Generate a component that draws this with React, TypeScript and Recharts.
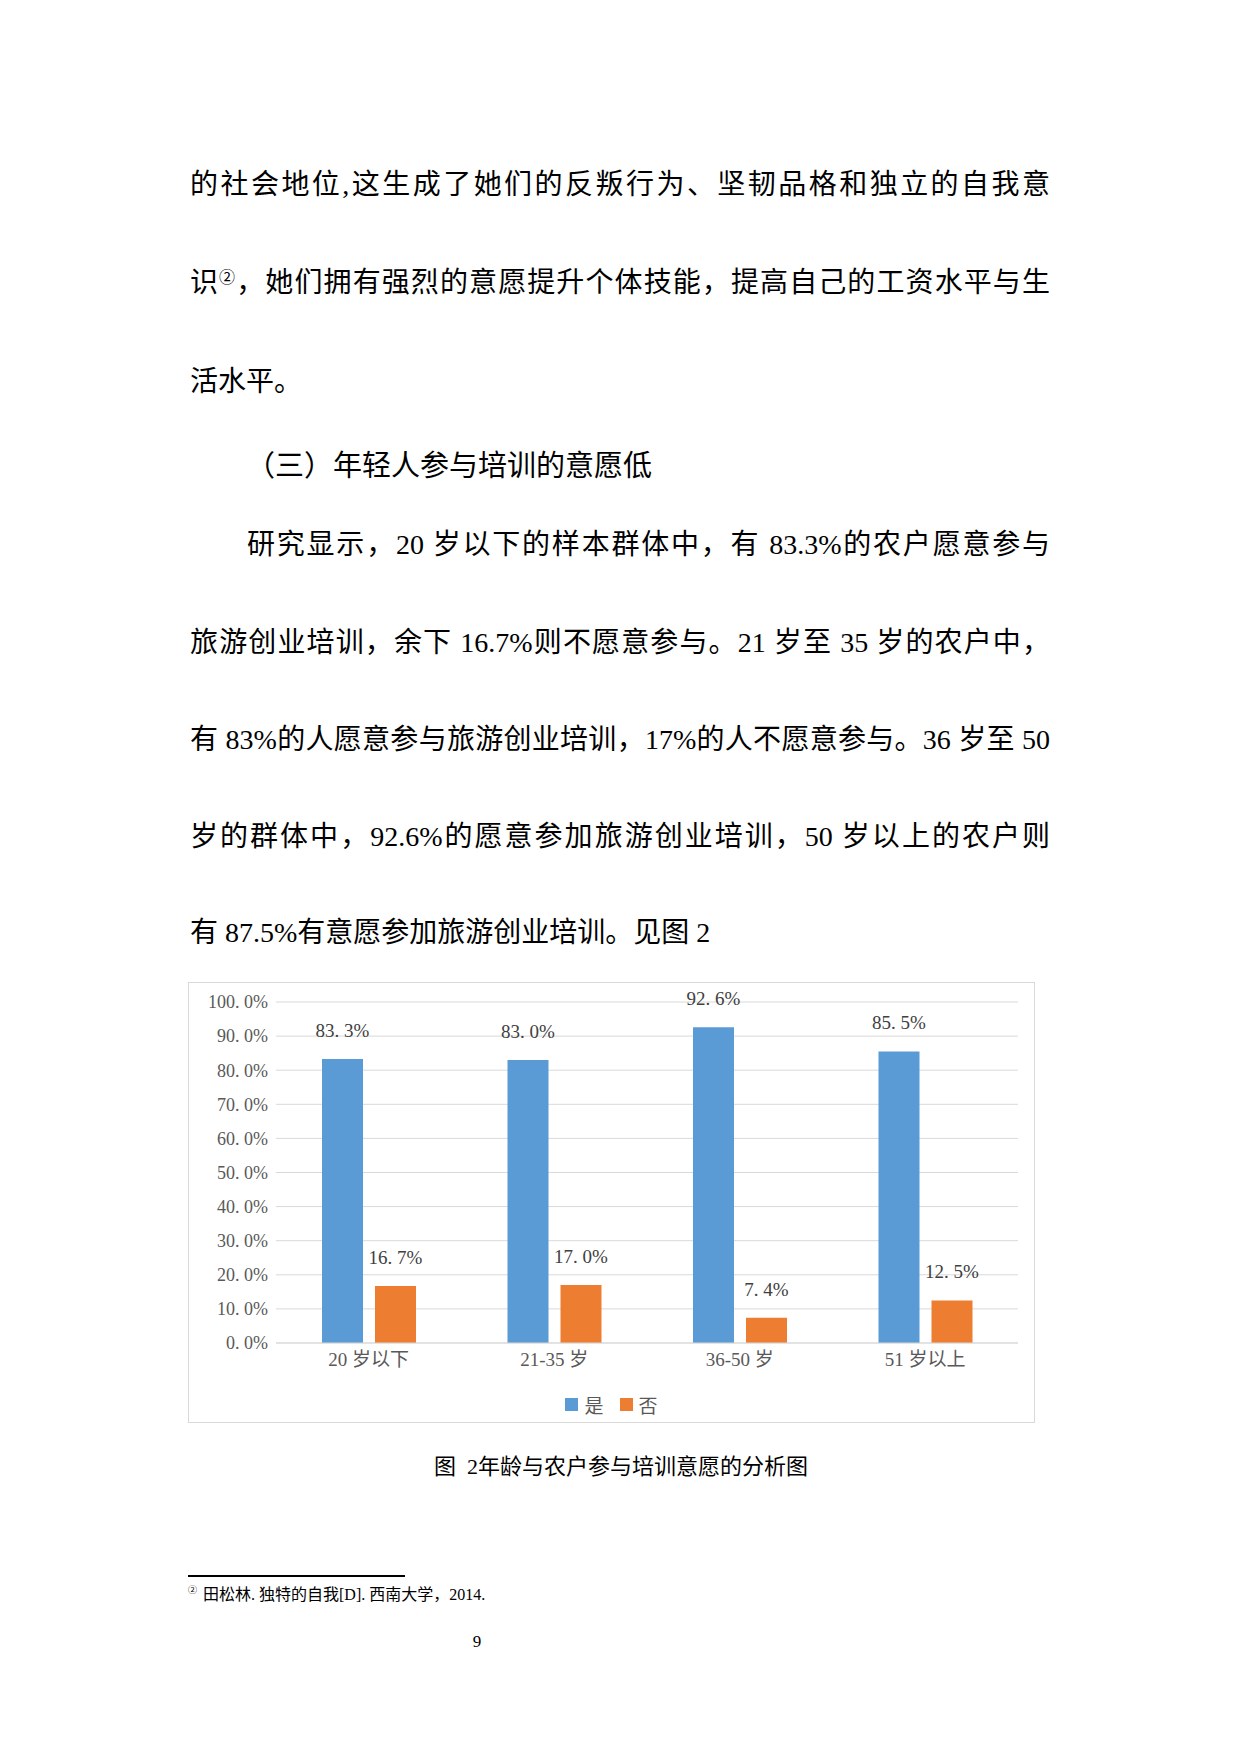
import React from "react";
import { BarChart, Bar, XAxis, YAxis, CartesianGrid, Legend, LabelList } from "recharts";

// chart data
const categories = ["20 岁以下", "21-35 岁", "36-50 岁", "51 岁以上"];
const seriesNames = ["是", "否"];
const yesValues = [83.3, 83.0, 92.6, 85.5];
const noValues = [16.7, 17.0, 7.4, 12.5];
const yTicks = [0, 10, 20, 30, 40, 50, 60, 70, 80, 90, 100];

// page text
const paraTop = [
  "的社会地位,这生成了她们的反叛行为、坚韧品格和独立的自我意",
  "识②，她们拥有强烈的意愿提升个体技能，提高自己的工资水平与生",
  "活水平。",
];
const heading = "（三）年轻人参与培训的意愿低";
const paraMain = [
  "研究显示，20 岁以下的样本群体中，有 83.3%的农户愿意参与",
  "旅游创业培训，余下 16.7%则不愿意参与。21 岁至 35 岁的农户中，",
  "有 83%的人愿意参与旅游创业培训，17%的人不愿意参与。36 岁至 50",
  "岁的群体中，92.6%的愿意参加旅游创业培训，50 岁以上的农户则",
  "有 87.5%有意愿参加旅游创业培训。见图 2",
];
const caption = "图  2年龄与农户参与培训意愿的分析图";
const footnote = "田松林. 独特的自我[D]. 西南大学，2014.";
const pageNumber = "9";

const data = categories.map((name, i) => ({
  name,
  yes: yesValues[i],
  no: noValues[i],
}));

const BLUE = "#5B9BD5";
const ORANGE = "#ED7D31";
const GRID = "#D9D9D9";
const TEXT = "#595959";
const SERIF = "'Liberation Serif', 'Noto Sans CJK SC', serif";

// nbsp after the dot so recharts does not wrap the label
const pct = (v: any) => `${Number(v).toFixed(1).replace(".", ".\u00a0")}%`;

const lineStyle = (center: number, left: number, justify: boolean): React.CSSProperties => ({
  position: "absolute",
  left,
  top: center - 20,
  width: 1050 - left,
  height: 40,
  lineHeight: "40px",
  fontSize: 28,
  fontFamily: SERIF,
  color: "#000",
  whiteSpace: "nowrap",
  textAlign: justify ? "justify" : "left",
  textAlignLast: justify ? "justify" : "left",
});

function renderText(line: string) {
  if (!line.includes("②")) return line;
  const [a, b] = line.split("②");
  return (
    <>
      {a}
      <sup style={{ fontSize: 16, verticalAlign: "top", lineHeight: "30px" }}>②</sup>
      {b}
    </>
  );
}

const renderLegend = (props: any) => {
  const items = [...(props.payload || [])].sort(
    (a: any, b: any) => seriesNames.indexOf(a.value) - seriesNames.indexOf(b.value)
  );
  return (
    <div style={{ display: "flex", justifyContent: "center", alignItems: "center", fontFamily: SERIF, fontSize: 19, color: TEXT, paddingLeft: 16 }}>
      {items.map((it: any, i: number) => (
        <div key={i} style={{ display: "flex", alignItems: "center", marginRight: i < items.length - 1 ? 16 : 0 }}>
          <span style={{ display: "inline-block", width: 13, height: 13, background: it.color, marginRight: 6 }} />
          <span>{it.value}</span>
        </div>
      ))}
    </div>
  );
};

export default function App() {
  const topCenters = [185, 283, 382];
  const mainCenters = [545, 643, 740, 837, 933];
  return (
    <div style={{ position: "absolute", left: 0, top: 0, width: 1240, height: 1754, background: "#fff" }}>
      {paraTop.map((l, i) => (
        <div key={"t" + i} style={lineStyle(topCenters[i], 190, i < paraTop.length - 1)}>
          {renderText(l)}
        </div>
      ))}
      <div
        style={{
          position: "absolute",
          left: 246,
          top: 463 - 20,
          height: 40,
          lineHeight: "40px",
          fontSize: 29,
          fontFamily: "'Noto Sans CJK SC', sans-serif",
          color: "#000",
          whiteSpace: "nowrap",
        }}
      >
        {heading}
      </div>
      {paraMain.map((l, i) => (
        <div key={"m" + i} style={lineStyle(mainCenters[i], i === 0 ? 247 : 190, i < paraMain.length - 1)}>
          {l}
        </div>
      ))}

      <div
        style={{
          position: "absolute",
          left: 188,
          top: 982,
          width: 847,
          height: 441,
          boxSizing: "border-box",
          border: `1px solid ${GRID}`,
          background: "#fff",
        }}
      >
        <BarChart
          width={845}
          height={439}
          data={data}
          margin={{ top: 19, right: 16, left: 0, bottom: 4 }}
          barSize={41}
          barGap={12}
        >
          <CartesianGrid vertical={false} stroke={GRID} strokeWidth={1} />
          <XAxis
            dataKey="name"
            axisLine={{ stroke: GRID, strokeWidth: 1 }}
            tickLine={false}
            tickMargin={4}
            height={48}
            interval={0}
            tick={{ fill: TEXT, fontSize: 19, fontFamily: SERIF }}
          />
          <YAxis
            width={87}
            domain={[0, 100]}
            ticks={yTicks}
            axisLine={false}
            tickLine={false}
            tickFormatter={pct}
            tick={{ fill: TEXT, fontSize: 18, fontFamily: SERIF }}
          />
          <Legend verticalAlign="bottom" content={renderLegend} />
          <Bar dataKey="yes" name={seriesNames[0]} fill={BLUE} isAnimationActive={false}>
            <LabelList dataKey="yes" position="top" offset={22} formatter={pct} fill="#404040" fontSize={19} fontFamily={SERIF} />
          </Bar>
          <Bar dataKey="no" name={seriesNames[1]} fill={ORANGE} isAnimationActive={false}>
            <LabelList dataKey="no" position="top" offset={22} formatter={pct} fill="#404040" fontSize={19} fontFamily={SERIF} />
          </Bar>
        </BarChart>
      </div>

      <div
        style={{
          position: "absolute",
          left: 421,
          top: 1467 - 15,
          width: 400,
          height: 30,
          lineHeight: "30px",
          textAlign: "center",
          fontSize: 22,
          fontFamily: SERIF,
          color: "#000",
          whiteSpace: "pre",
        }}
      >
        {caption}
      </div>

      <div style={{ position: "absolute", left: 188, top: 1575, width: 217, height: 1.5, background: "#000" }} />
      <div
        style={{
          position: "absolute",
          left: 188,
          top: 1595 - 12,
          height: 24,
          lineHeight: "24px",
          fontSize: 16,
          fontFamily: SERIF,
          color: "#000",
          whiteSpace: "nowrap",
        }}
      >
        <sup style={{ fontSize: 9, verticalAlign: "top", lineHeight: "14px", marginRight: 6 }}>②</sup>
        {footnote}
      </div>
      <div
        style={{
          position: "absolute",
          left: 457,
          top: 1642 - 12,
          width: 40,
          height: 24,
          lineHeight: "24px",
          textAlign: "center",
          fontSize: 17,
          fontFamily: SERIF,
          color: "#000",
        }}
      >
        {pageNumber}
      </div>
    </div>
  );
}
